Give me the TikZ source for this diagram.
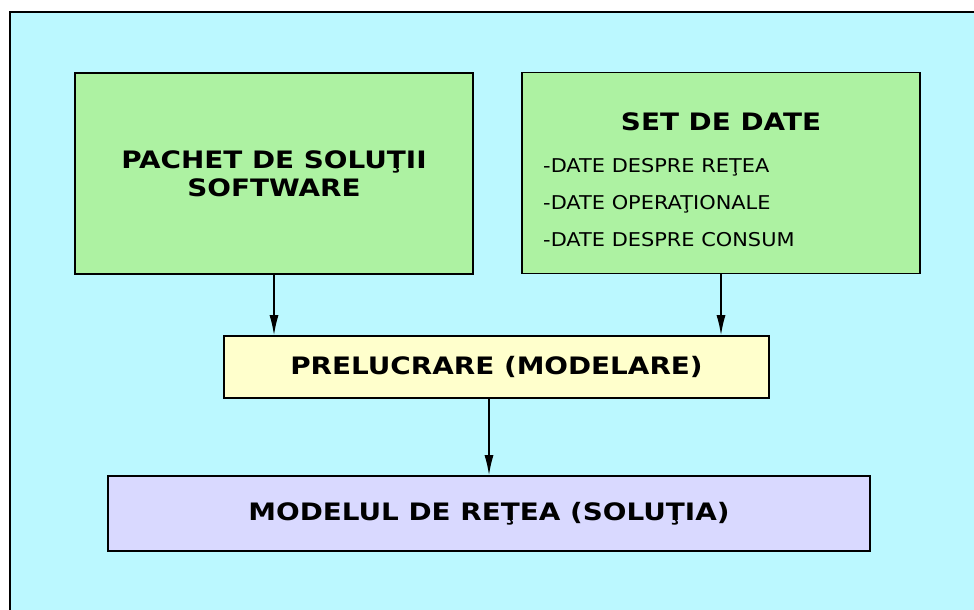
\documentclass[tikz,border=0pt]{standalone}
\usepackage{fontspec}
\setmainfont{DejaVu Sans}
\newfontfamily\widebold[FakeStretch=1.16]{DejaVu Sans Bold}
\newfontfamily\widetext[FakeStretch=1.1]{DejaVu Sans}
\usetikzlibrary{arrows.meta,positioning,calc}
\definecolor{bgcyan}{HTML}{BBF8FF}
\definecolor{boxgreen}{HTML}{ADF2A2}
\definecolor{boxyellow}{HTML}{FFFFCC}
\definecolor{boxviolet}{HTML}{D9D9FF}
\tikzstyle{box}=[draw=black,line width=1.6pt,rectangle,inner sep=0pt,align=center]
\tikzstyle{greenbox}=[box,fill=boxgreen,minimum width=398pt,minimum height=201pt]
\tikzstyle{title}=[font=\widebold\fontsize{24}{28}\selectfont,inner sep=0pt]
\tikzstyle{item}=[font=\widetext\fontsize{19}{21}\selectfont,inner sep=0pt,anchor=base west]
\tikzstyle{flow}=[-{Latex[length=20pt,width=9pt]},line width=1.4pt]

\begin{document}
\begin{tikzpicture}[x=1pt,y=-1pt]
\useasboundingbox (0,0) rectangle (974,610);
\clip (0,0) rectangle (974,610);
\fill[bgcyan] (10,12) rectangle (990,630);
\draw[line width=2pt] (10,630) -- (10,12) -- (990,12);
\node [greenbox,title] (pachet) at (274,173.5) {PACHET DE SOLUŢII\\SOFTWARE};
\node [greenbox] (setdate) at (721,173) {};
\node [title,anchor=base] (setdatetitle) at (721,130) {SET DE DATE};
\node [item] (retea) at (543,172) {-DATE DESPRE REŢEA};
\node [item] (operational) at (543,209) {-DATE OPERAŢIONALE};
\node [item] (consum) at (543,246) {-DATE DESPRE CONSUM};
\node [box,fill=boxyellow,minimum width=545pt,minimum height=62pt,title] (prelucrare) at (496.5,367) {PRELUCRARE (MODELARE)};
\node [box,fill=boxviolet,minimum width=762pt,minimum height=75pt,title] (model) at (489,513.5) {MODELUL DE REŢEA (SOLUŢIA)};
\draw [flow] (pachet.south) -- (pachet.south |- prelucrare.north);
\draw [flow] (setdate.south) -- (setdate.south |- prelucrare.north);
\draw [flow] (model.north |- prelucrare.south) -- (model.north);
\end{tikzpicture}
\end{document}
